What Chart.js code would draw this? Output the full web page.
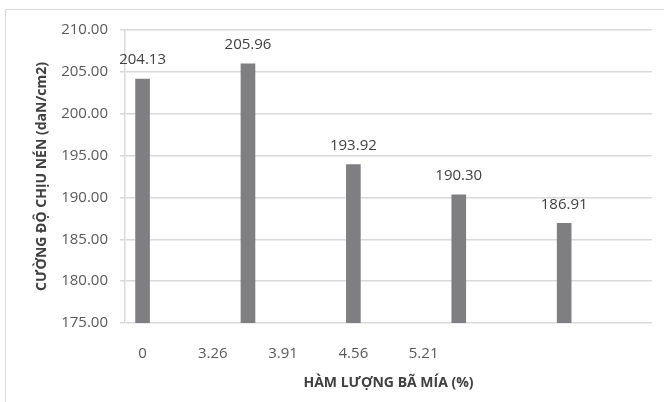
<!DOCTYPE html>
<html>
<head>
<meta charset="utf-8">
<script src="https://cdn.jsdelivr.net/npm/chart.js@4"></script>
<style>
  body { margin: 0; background: #fff; }
  #wrap { position: relative; width: 664px; height: 402px; overflow: hidden; }
  #frame { position: absolute; left: 5px; top: 9px; width: 700px; height: 500px; border: 1px solid #d9d9d9; }
  canvas { position: absolute; left: 0; top: 0; }
</style>
</head>
<body>
<div id="wrap">
  <div id="frame"></div>
  <canvas id="chart" width="664" height="402"></canvas>
</div>
<script>
const bagasseLabels = ["0", "3.26", "3.91", "4.56", "5.21"];
const strengthValues = [204.13, 205.96, 193.92, 190.30, 186.91];
const yMin = 175;
const yMax = 210;
const yStep = 5;

// the sheet uses 15 slots: axis labels on every 2nd slot, bars on every 3rd
const slotCount = 15;
const slotLabels = new Array(slotCount).fill("");
const slotValues = new Array(slotCount).fill(null);
bagasseLabels.forEach((l, i) => { slotLabels[i * 2] = l; });
strengthValues.forEach((v, i) => { slotValues[i * 3] = v; });

const tickColor = "#595959";
const titleColor = "#404040";
const gridColor = "#d9d9d9";

// value labels above the bars
const valueLabels = {
  id: "valueLabels",
  afterDatasetsDraw(chart) {
    const ctx = chart.ctx;
    const meta = chart.getDatasetMeta(0);
    ctx.save();
    ctx.font = "15px 'Open Sans'";
    ctx.fillStyle = titleColor;
    ctx.textAlign = "center";
    ctx.textBaseline = "middle";
    meta.data.forEach((bar, i) => {
      const v = slotValues[i];
      if (v == null) return;
      ctx.fillText(v.toFixed(2), bar.x, bar.y - 19);
    });
    ctx.restore();
  }
};

const ctx = document.getElementById("chart").getContext("2d");
const chart = new Chart(ctx, {
  type: "bar",
  data: {
    labels: slotLabels,
    datasets: [
      {
        data: slotValues,
        backgroundColor: "#7f7f81",
        barThickness: 14,
        skipNull: true
      }
    ]
  },
  options: {
    responsive: false,
    animation: false,
    layout: { padding: { top: 30, right: 12, left: 0, bottom: 0 } },
    plugins: {
      legend: { display: false },
      tooltip: { enabled: false }
    },
    scales: {
      x: {
        grid: { display: false, drawTicks: false },
        border: { display: false },
        ticks: {
          autoSkip: false,
          maxRotation: 0,
          padding: 22,
          color: tickColor,
          font: { family: "'Open Sans'", size: 15 }
        },
        title: {
          display: true,
          text: "HÀM LƯỢNG BÃ MÍA (%)",
          color: titleColor,
          font: { family: "'Open Sans'", size: 14, weight: "bold" },
          padding: { top: 0, bottom: 11 }
        },
        afterFit(scale) { scale.height = 79; }
      },
      y: {
        min: yMin,
        max: yMax,
        ticks: {
          stepSize: yStep,
          padding: 12,
          color: tickColor,
          font: { family: "'Open Sans'", size: 15 },
          callback: (v) => Number(v).toFixed(2)
        },
        grid: { color: gridColor, lineWidth: 1.5, tickLength: 5 },
        border: { display: true, color: gridColor, width: 1.5 },
        title: {
          display: true,
          text: "CƯỜNG ĐỘ CHỊU NÉN (daN/cm2)",
          color: titleColor,
          font: { family: "'Open Sans'", size: 14, weight: "bold" },
          padding: { top: 34, bottom: 0 }
        },
        afterFit(scale) { scale.width = 125; }
      }
    }
  },
  plugins: [valueLabels]
});
</script>
</body>
</html>
